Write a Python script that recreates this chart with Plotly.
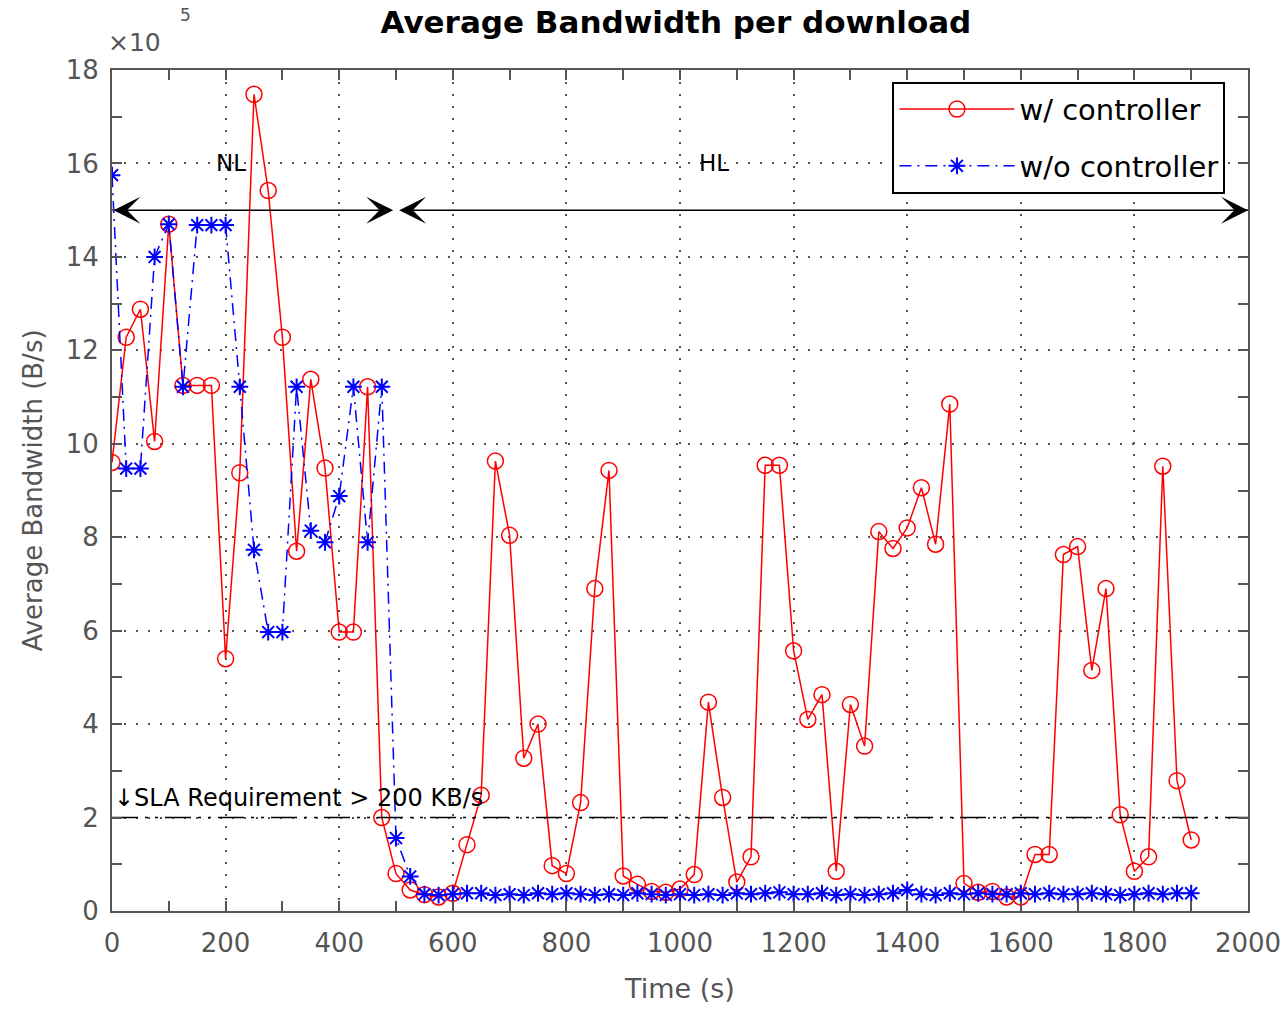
import plotly.graph_objects as go

# Time stamps (s)
time_s = [0, 25, 50, 75, 100, 125, 150, 175, 200, 225, 250, 275, 300, 325, 350, 375,
          400, 425, 450, 475, 500, 525, 550, 575, 600, 625, 650, 675, 700, 725, 750, 775,
          800, 825, 850, 875, 900, 925, 950, 975, 1000, 1025, 1050, 1075, 1100, 1125,
          1150, 1175, 1200, 1225, 1250, 1275, 1300, 1325, 1350, 1375, 1400, 1425, 1450,
          1475, 1500, 1525, 1550, 1575, 1600, 1625, 1650, 1675, 1700, 1725, 1750, 1775,
          1800, 1825, 1850, 1875, 1900]

# Average bandwidth (x 10^5 B/s)
with_controller = [9.6, 12.28, 12.88, 10.05, 14.7, 11.25, 11.25, 11.25, 5.4, 9.38,
                   17.48, 15.42, 12.28, 7.7, 11.38, 9.48, 5.97, 5.97, 11.22, 2.0,
                   0.8, 0.45, 0.35, 0.3, 0.38, 1.42, 2.48, 9.63, 8.04, 3.27,
                   4.0, 0.97, 0.8, 2.32, 6.9, 9.43, 0.75, 0.57, 0.42, 0.4,
                   0.47, 0.78, 4.47, 2.43, 0.62, 1.16, 9.54, 9.54, 5.57, 4.1,
                   4.63, 0.85, 4.42, 3.53, 8.12, 7.76, 8.2, 9.06, 7.85, 10.85,
                   0.59, 0.4, 0.42, 0.3, 0.3, 1.21, 1.21, 7.63, 7.8, 5.15,
                   6.9, 2.06, 0.85, 1.16, 9.52, 2.79, 1.52]

without_controller = [15.75, 9.47, 9.47, 14.0, 14.7, 11.22, 14.68, 14.68, 14.68, 11.22,
                      7.73, 5.97, 5.97, 11.22, 8.14, 7.89, 8.88, 11.22, 7.89, 11.22,
                      1.56, 0.74, 0.36, 0.34, 0.36, 0.38, 0.38, 0.34, 0.36, 0.34,
                      0.38, 0.36, 0.38, 0.36, 0.34, 0.36, 0.34, 0.38, 0.36, 0.34,
                      0.36, 0.34, 0.36, 0.34, 0.38, 0.36, 0.38, 0.40, 0.36, 0.36,
                      0.38, 0.34, 0.36, 0.34, 0.36, 0.38, 0.45, 0.36, 0.34, 0.38,
                      0.36, 0.38, 0.36, 0.36, 0.38, 0.36, 0.38, 0.36, 0.36, 0.38,
                      0.36, 0.34, 0.36, 0.38, 0.36, 0.38, 0.38]

sla_level = 2.0
phase_level = 15.0
phase_bounds = [0, 495, 503, 2000]
phase_labels = ["NL", "HL"]
phase_label_x = [210, 1060]
phase_label_y = 16.0
x_ticks = [0, 200, 400, 600, 800, 1000, 1200, 1400, 1600, 1800, 2000]
y_ticks = [0, 2, 4, 6, 8, 10, 12, 14, 16, 18]

FONT = "DejaVu Sans"
GRAY = "#555555"

fig = go.Figure()

fig.add_trace(go.Scatter(
    x=time_s, y=with_controller, mode="lines+markers", name="w/ controller",
    legendgroup="a",
    line=dict(color="#ff0000", width=1.5),
    marker=dict(symbol="circle-open", size=16, color="#ff0000", line=dict(width=1.5)),
))
fig.add_trace(go.Scatter(
    x=time_s, y=without_controller, mode="lines+markers", name="w/o controller",
    legendgroup="b",
    line=dict(color="#0000ff", width=1.5, dash="12px,6px,2px,6px"),
    marker=dict(symbol="asterisk-open", size=14, color="#0000ff", line=dict(width=2, color="#0000ff")),
))

# SLA requirement line
fig.add_trace(go.Scatter(
    x=[x_ticks[0], x_ticks[-1]], y=[sla_level, sla_level], mode="lines",
    line=dict(color="black", width=1.5, dash="26px,7px,3px,7px,3px,7px"),
    showlegend=False, hoverinfo="skip",
))

annotations = []
# Phase arrows
for i in range(2):
    x0 = phase_bounds[2 * i]
    x1 = phase_bounds[2 * i + 1]
    annotations.append(dict(
        x=x1, y=phase_level, ax=x0, ay=phase_level, xref="x", yref="y",
        axref="x", ayref="y", showarrow=True, arrowside="end+start",
        arrowhead=3, arrowsize=3.0, arrowwidth=1.5, arrowcolor="black",
        text="", standoff=0, startstandoff=0,
    ))
    annotations.append(dict(
        x=phase_label_x[i], y=phase_label_y, xref="x", yref="y", text=phase_labels[i],
        showarrow=False, font=dict(family=FONT, size=23, color="black"),
    ))

annotations.append(dict(
    x=0, y=sla_level, xref="x", yref="y", xanchor="left", yanchor="bottom",
    text="\u2193SLA Requirement > 200 KB/s", showarrow=False,
    font=dict(family=FONT, size=24, color="black"), yshift=4,
))
annotations.append(dict(
    x=0, y=1.0, xref="paper", yref="paper", xanchor="left", yanchor="middle",
    text="\u00d710", showarrow=False, yshift=28, xshift=-6,
    font=dict(family=FONT, size=25, color=GRAY),
))
annotations.append(dict(
    x=0, y=1.0, xref="paper", yref="paper", xanchor="center", yanchor="middle",
    text="5", showarrow=False, yshift=55, xshift=73,
    font=dict(family=FONT, size=17, color=GRAY),
))

axis_common = dict(
    showline=True, linecolor=GRAY, linewidth=2, mirror="ticks",
    ticks="inside", ticklen=10, tickwidth=1.5, tickcolor=GRAY,
    showgrid=True, gridcolor="#555555", griddash="2px,10px", gridwidth=2,
    zeroline=False, automargin=False,
    tickfont=dict(family=FONT, size=26, color=GRAY),
)

fig.update_layout(
    width=1285, height=1010,
    margin=dict(l=112, r=37, t=70, b=99),
    paper_bgcolor="white", plot_bgcolor="white",
    title=dict(text="<b>Average Bandwidth per download</b>", x=0.526, xanchor="center",
               y=0.978, yanchor="middle", font=dict(family=FONT, size=31, color="black")),
    xaxis=dict(range=[0, 2000], tickvals=x_ticks, ticklabelstandoff=8,
               title=dict(text="Time (s)", font=dict(family=FONT, size=27, color=GRAY), standoff=22),
               minor=dict(ticks="inside", dtick=100, ticklen=10, tickcolor=GRAY, showgrid=False),
               **axis_common),
    yaxis=dict(range=[0, 18], tickvals=y_ticks, ticklabelstandoff=6,
               title=dict(text="Average Bandwidth (B/s)", font=dict(family=FONT, size=26, color=GRAY), standoff=16),
               minor=dict(ticks="inside", dtick=1, ticklen=10, tickcolor=GRAY, showgrid=False),
               **axis_common),
    legend=dict(x=0.687, y=0.986, xanchor="left", yanchor="top",
                bgcolor="white", bordercolor="black", borderwidth=2,
                font=dict(family=FONT, size=29, color="black"),
                itemwidth=115, tracegroupgap=16),
    annotations=annotations,
    showlegend=True,
)

fig.write_html("out.html")
